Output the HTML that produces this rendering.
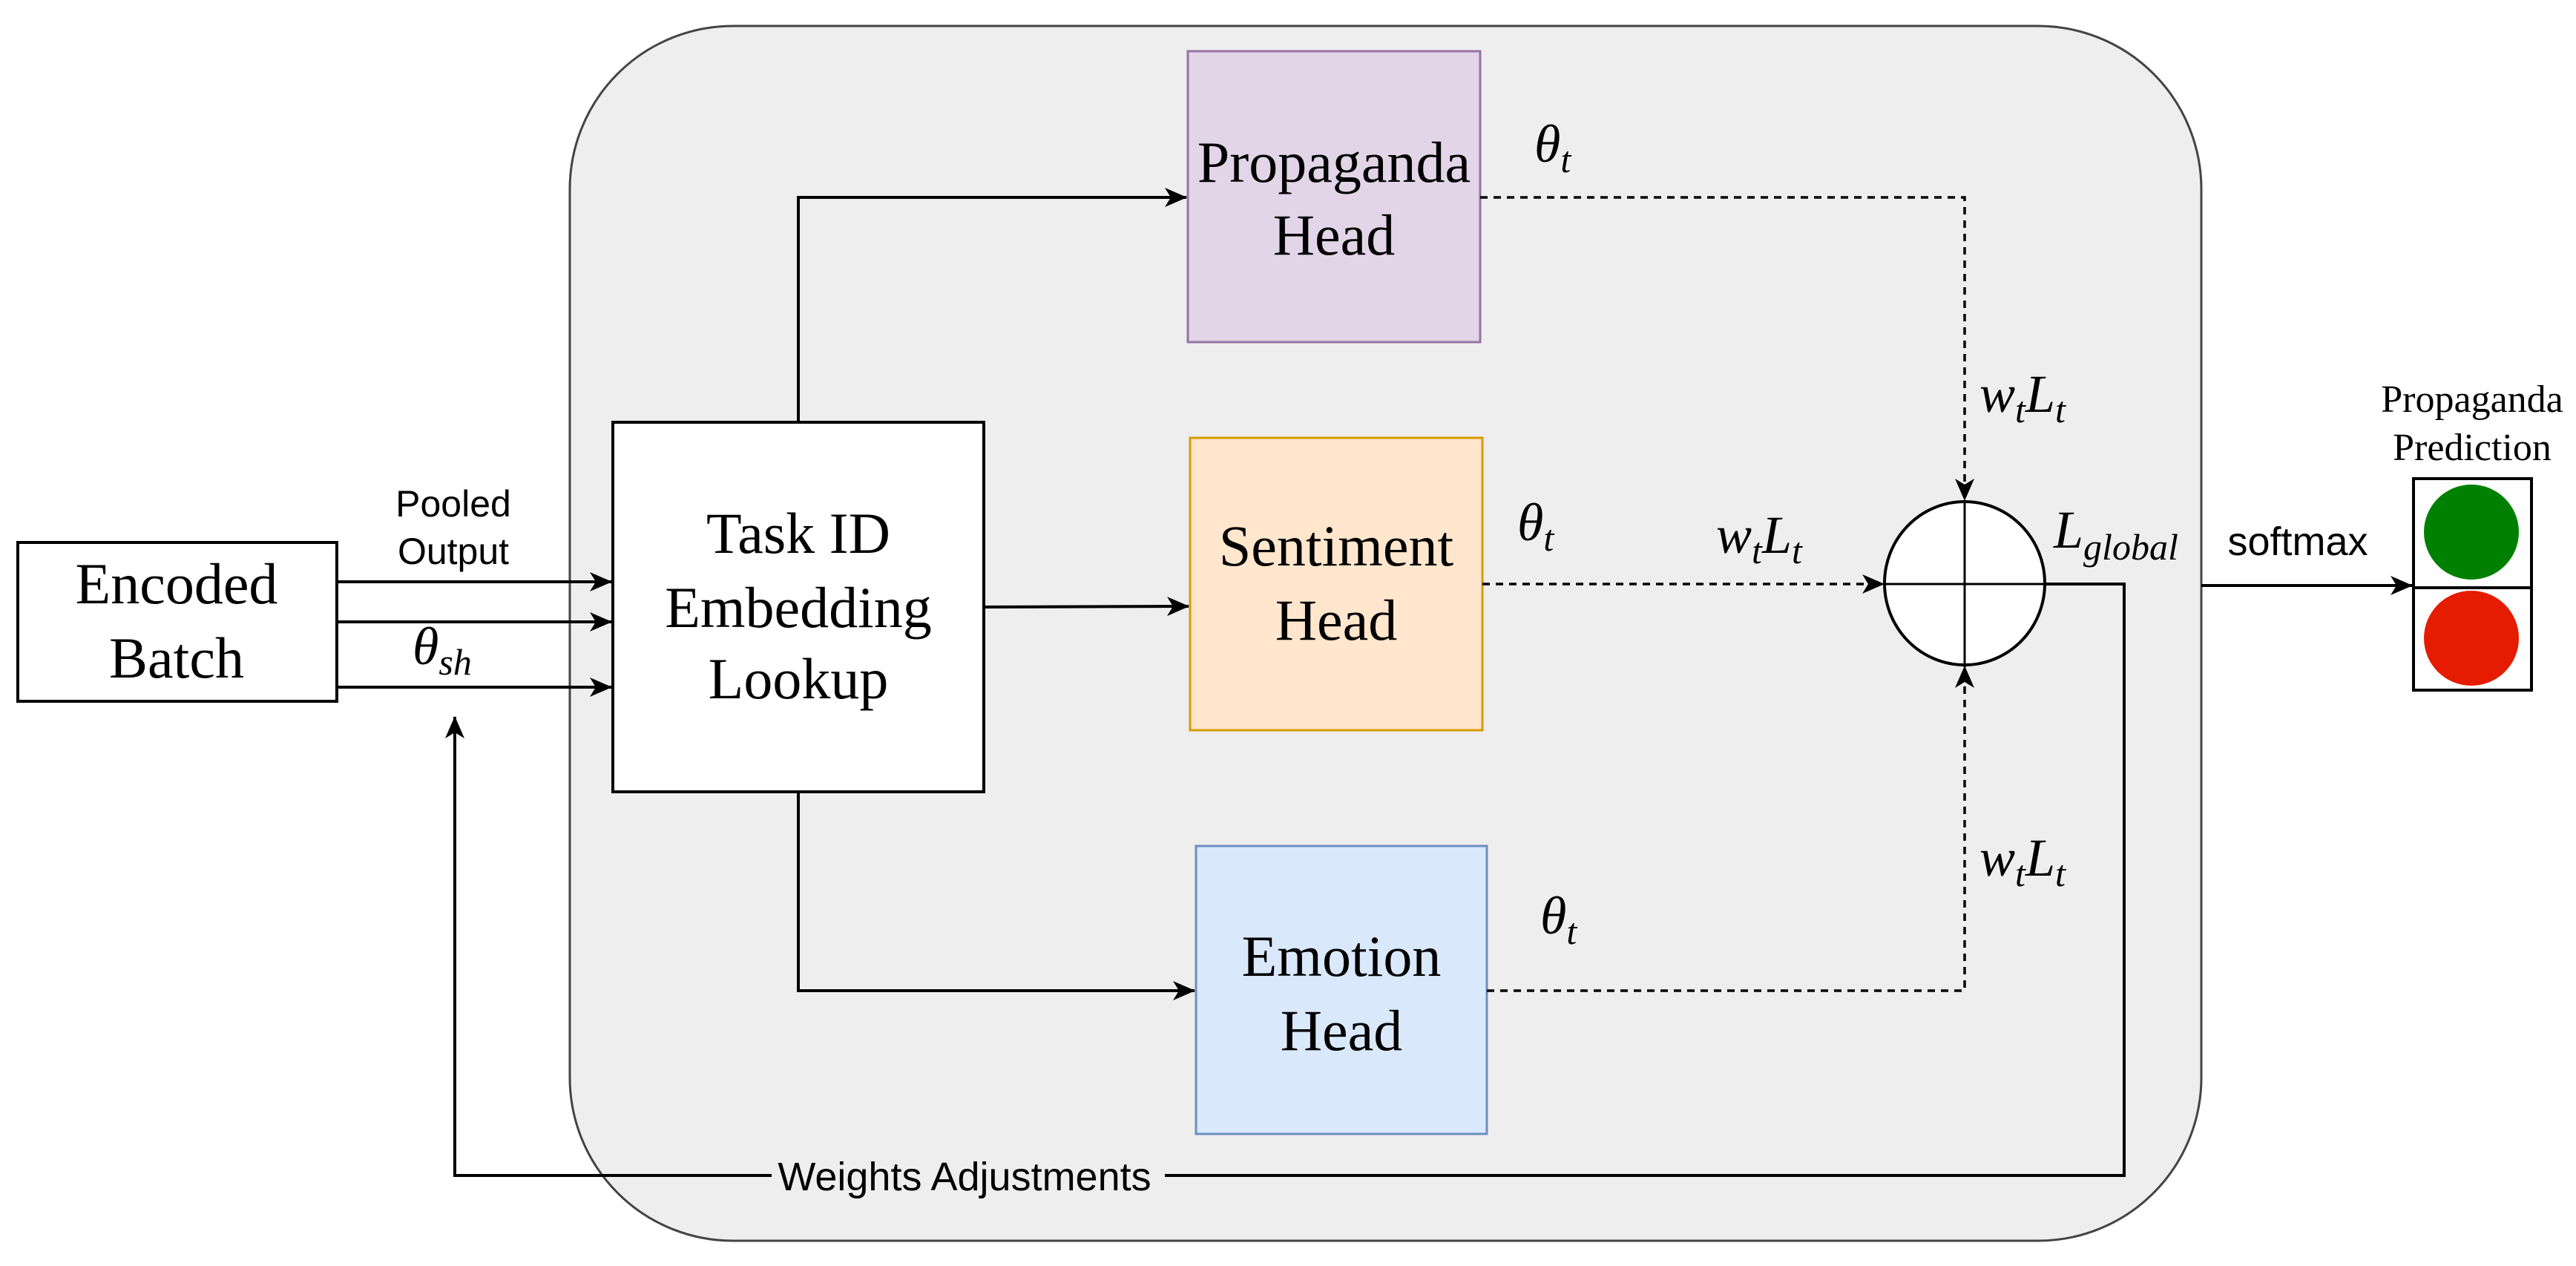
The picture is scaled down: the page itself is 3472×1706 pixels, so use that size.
<!DOCTYPE html>
<html><head><meta charset="utf-8"><style>
html,body{margin:0;padding:0;background:#fff;}
svg{display:block;}
.s{font-family:"Liberation Serif",serif;}
.a{font-family:"Liberation Sans",sans-serif;}
</style></head><body>
<svg width="3472" height="1706" viewBox="0 0 3472 1706" xmlns="http://www.w3.org/2000/svg">
<defs>
<marker id="ab" markerWidth="30" markerHeight="30" refX="29" refY="15" orient="auto" markerUnits="userSpaceOnUse" viewBox="0 0 30 30"><path d="M0,2 L30,15 L0,28 L8,15 z" fill="#000"/></marker>
</defs>
<rect x="768" y="35" width="2199" height="1637" rx="220" ry="220" fill="#eeeeee" stroke="#444" stroke-width="3"/>
<rect x="24" y="731" width="430" height="214" fill="#fff" stroke="#000" stroke-width="4"/>
<g class="s" font-size="78" text-anchor="middle">
<text x="238" y="813">Encoded</text>
<text x="238" y="913">Batch</text>
</g>
<rect x="826" y="569" width="500" height="498" fill="#fff" stroke="#000" stroke-width="4"/>
<g class="s" font-size="78" text-anchor="middle">
<text x="1076" y="745">Task ID</text>
<text x="1076" y="845">Embedding</text>
<text x="1076" y="941">Lookup</text>
</g>
<rect x="1601" y="69" width="394" height="392" fill="#e1d5e7" stroke="#9673a6" stroke-width="3"/>
<rect x="1604" y="590" width="394" height="394" fill="#ffe6cc" stroke="#d79b00" stroke-width="3"/>
<rect x="1612" y="1140" width="392" height="388" fill="#dae8fc" stroke="#6c8ebf" stroke-width="3"/>
<g class="s" font-size="78" text-anchor="middle">
<text x="1798" y="245">Propaganda</text>
<text x="1798" y="343">Head</text>
<text x="1801" y="762">Sentiment</text>
<text x="1801" y="862">Head</text>
<text x="1808" y="1315">Emotion</text>
<text x="1808" y="1415">Head</text>
</g>
<g stroke="#000" stroke-width="4" fill="none">
<line x1="454" y1="784" x2="824" y2="784" marker-end="url(#ab)"/>
<line x1="454" y1="838" x2="824" y2="838" marker-end="url(#ab)"/>
<line x1="454" y1="926" x2="824" y2="926" marker-end="url(#ab)"/>
<polyline points="1076,569 1076,266 1599,266" marker-end="url(#ab)"/>
<line x1="1326" y1="818" x2="1602" y2="817" marker-end="url(#ab)"/>
<polyline points="1076,1067 1076,1335 1610,1335" marker-end="url(#ab)"/>
<g stroke-width="3.5" stroke-dasharray="10,8">
<polyline points="1995,266 2648,266 2648,674" marker-end="url(#ab)"/>
<line x1="1998" y1="787" x2="2539" y2="787" marker-end="url(#ab)"/>
<polyline points="2004,1335 2648,1335 2648,898" marker-end="url(#ab)"/>
</g>
<polyline points="2756,787 2863,787 2863,1584 613,1584 613,966" marker-end="url(#ab)"/>
<line x1="2967" y1="789" x2="3251" y2="789" marker-end="url(#ab)"/>
</g>
<ellipse cx="2648" cy="786" rx="108" ry="110" fill="#fff" stroke="#000" stroke-width="4"/>
<line x1="2648" y1="676" x2="2648" y2="896" stroke="#000" stroke-width="3"/>
<line x1="2540" y1="787" x2="2756" y2="787" stroke="#000" stroke-width="3"/>
<rect x="1040" y="1555" width="530" height="60" fill="#eeeeee"/>
<text class="a" x="1300" y="1604" font-size="54" text-anchor="middle">Weights Adjustments</text>
<text class="a" x="611" y="696" font-size="50" text-anchor="middle">Pooled</text>
<text class="a" x="611" y="760" font-size="50" text-anchor="middle">Output</text>
<text class="s" x="556" y="895" font-size="72" font-style="italic">θ<tspan font-size="50" dy="14">sh</tspan></text>
<g class="s" font-style="italic" font-size="72">
<text x="2068" y="218">θ<tspan font-size="50" dy="14">t</tspan></text>
<text x="2045" y="728">θ<tspan font-size="50" dy="14">t</tspan></text>
<text x="2076" y="1258">θ<tspan font-size="50" dy="14">t</tspan></text>
<text x="2668" y="555">w<tspan font-size="50" dy="14">t</tspan><tspan dy="-14">L</tspan><tspan font-size="50" dy="14">t</tspan></text>
<text x="2313" y="745">w<tspan font-size="50" dy="14">t</tspan><tspan dy="-14">L</tspan><tspan font-size="50" dy="14">t</tspan></text>
<text x="2668" y="1180">w<tspan font-size="50" dy="14">t</tspan><tspan dy="-14">L</tspan><tspan font-size="50" dy="14">t</tspan></text>
<text x="2768" y="738">L<tspan font-size="50" dy="16">global</tspan></text>
</g>
<text class="a" x="3097" y="748" font-size="54" text-anchor="middle">softmax</text>
<text class="s" x="3332" y="555" font-size="52" text-anchor="middle">Propaganda</text>
<text class="s" x="3332" y="620" font-size="52" text-anchor="middle">Prediction</text>
<rect x="3253" y="645" width="159" height="285" fill="#fff" stroke="#000" stroke-width="4"/>
<line x1="3253" y1="792" x2="3412" y2="792" stroke="#000" stroke-width="4"/>
<ellipse cx="3331" cy="717" rx="64" ry="64" fill="#008000"/>
<ellipse cx="3331" cy="860" rx="64" ry="64" fill="#e61c00"/>
</svg>
</body></html>
